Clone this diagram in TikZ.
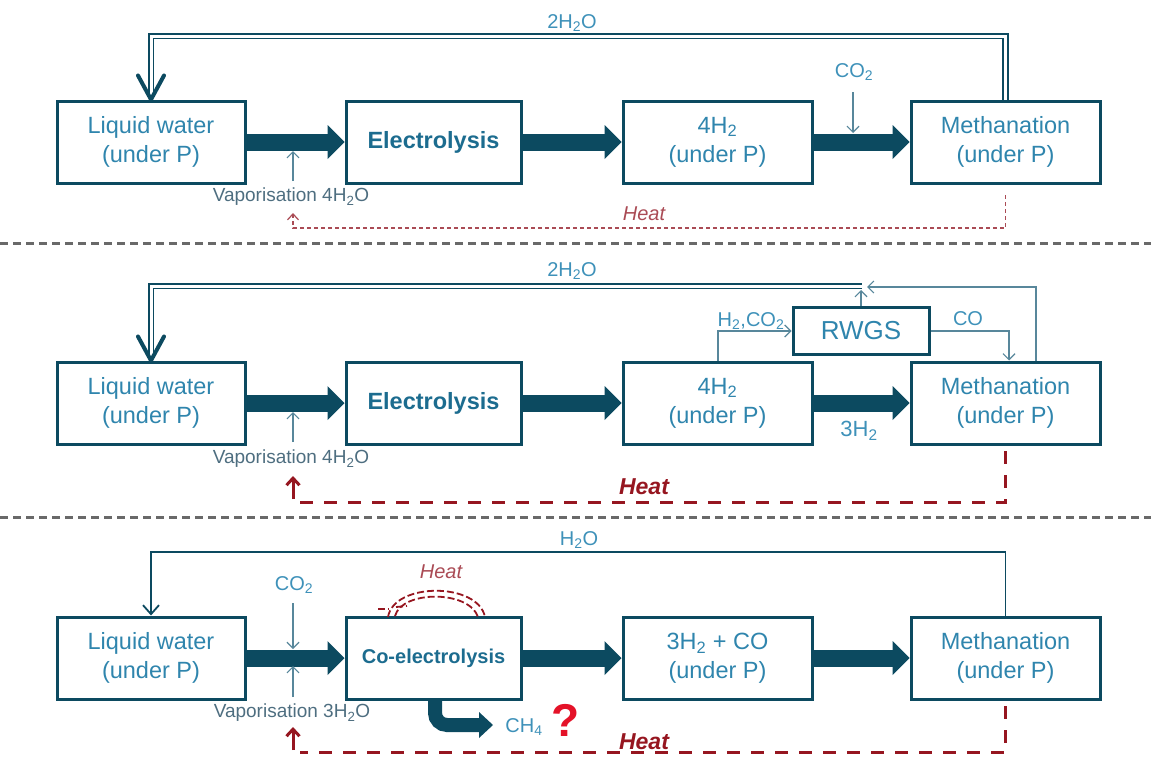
\documentclass[tikz,border=0pt]{standalone}
\usepackage{fontspec}
\setmainfont{Liberation Sans}
\usetikzlibrary{arrows.meta,calc}
\definecolor{boxdark}{RGB}{12,74,96}
\definecolor{boxtext}{RGB}{47,133,173}
\definecolor{boldtext}{RGB}{28,108,143}
\definecolor{lblcol}{RGB}{62,145,185}
\definecolor{vapcol}{RGB}{78,110,128}
\definecolor{thincol}{RGB}{88,135,155}
\definecolor{heatred}{RGB}{150,22,32}
\definecolor{heatlt}{RGB}{170,75,85}
\definecolor{sepgray}{RGB}{105,105,105}
\definecolor{qred}{RGB}{228,18,40}
\newcommand{\subs}[1]{\textsubscript{#1}}
\begin{document}
\begin{tikzpicture}[x=1pt,y=-1pt,
  box/.style={draw=boxdark, line width=3pt, minimum width=#1, minimum height=82pt,
    inner sep=0pt, align=center, text=boxtext, font=\fontsize{23.5}{29}\selectfont},
  bigarrow/.style={draw=boxdark, line width=17pt,
    -{Triangle[length=17pt 0 0, width=34pt 0 0, line width=0pt 0 0]}},
  bentarrow/.style={draw=boxdark, line width=14pt, rounded corners=12pt,
    -{Triangle[length=14pt 0 0, width=26pt 0 0, line width=0pt 0 0]}},
  dbl/.style={draw=boxdark, line width=1.6pt, double=white, double distance=3pt},
  vhead/.style={draw=boxdark, line width=4pt, line cap=round, line join=round},
  loopthin/.style={draw=boxdark, line width=1.8pt, -{Straight Barb[length=9pt 0 0, width=16pt 0 0]}},
  thinarr/.style={draw=thincol, line width=1.2pt, -{Straight Barb[length=6pt 0 0, width=12pt 0 0]}},
  lbl/.style={inner sep=0pt, text=lblcol, font=\fontsize{20}{24}\selectfont},
  vap/.style={inner sep=0pt, text=vapcol, font=\fontsize{19}{23}\selectfont},
  heatlight/.style={draw=heatlt, line width=1.2pt, dash pattern=on 4pt off 3pt,
    -{Straight Barb[length=6pt 0 0, width=11pt 0 0]}},
  heatbold/.style={draw=heatred, line width=3pt, dash pattern=on 13pt off 11pt},
  heattip/.style={draw=heatred, line width=3pt, -{Straight Barb[length=7pt 0 0, width=13pt 0 0]}},
  heatarc/.style={draw=heatred, line width=1.8pt, dash pattern=on 7pt off 3pt},
  heatlbl/.style={inner sep=0pt, text=heatlt, font=\fontsize{20}{24}\selectfont\itshape},
  heatlblb/.style={inner sep=0pt, text=heatred, font=\fontsize{23}{27}\selectfont\bfseries\itshape},
  sepline/.style={draw=sepgray, line width=3pt, dash pattern=on 8pt off 5pt}
]
\useasboundingbox (0,0) rectangle (1151,758);

% separators
\draw[sepline] (0,243) -- (1151,243);
\draw[sepline] (0,517) -- (1151,517);

% ================= Row 1 =================
\node[box=188pt] (A1) at (151,142) {Liquid water\\(under P)};
\node[box=175pt, text=boldtext, font=\fontsize{23.5}{29}\selectfont\bfseries] (B1) at (433.5,142) {Electrolysis};
\node[box=189pt] (C1) at (717.5,142) {4H\subs{2}\\(under P)};
\node[box=189pt] (D1) at (1005.5,142) {Methanation\\(under P)};
\draw[bigarrow] (A1.east) -- (B1.west);
\draw[bigarrow] (B1.east) -- (C1.west);
\draw[bigarrow] (C1.east) -- (D1.west);

\coordinate (t1) at (0,36);
\draw[dbl] (D1.north) |- (t1 -| A1.north) -- ($(A1.north)+(0,-4)$);
\draw[vhead] ($(A1.north)+(-13,-24)$) -- (A1.north) -- ($(A1.north)+(13,-24)$);
\node[lbl] (w1) at (572,23) {2H\subs{2}O};

\node[lbl] (co1) at (854,72) {CO\subs{2}};
\coordinate (co1s) at (853,92);
\draw[thinarr] (co1s) -- (co1s |- 0,133);

\node[vap] (v1) at (291,197) {Vaporisation 4H\subs{2}O};
\coordinate (v1s) at (293,181);
\draw[thinarr] (v1s) -- (v1s |- 0,151);

\coordinate (h1a) at (1005.5,195);
\coordinate (h1b) at (293,228);
\draw[heatlight] (h1a) |- (h1b) -- ($(h1b)+(0,-15)$);
\node[heatlbl] (hl1) at (644,214) {Heat};

% ================= Row 2 =================
\node[box=188pt] (A2) at (151,403) {Liquid water\\(under P)};
\node[box=175pt, text=boldtext, font=\fontsize{23.5}{29}\selectfont\bfseries] (B2) at (433.5,403) {Electrolysis};
\node[box=189pt] (C2) at (717.5,403) {4H\subs{2}\\(under P)};
\node[box=189pt] (D2) at (1005.5,403) {Methanation\\(under P)};
\node[draw=boxdark, line width=3pt, minimum width=136pt, minimum height=47pt, inner sep=0pt,
  text=boxtext, font=\fontsize{26}{30}\selectfont] (R) at (861,331) {RWGS};
\draw[bigarrow] (A2.east) -- (B2.west);
\draw[bigarrow] (B2.east) -- (C2.west);
\draw[bigarrow] (C2.east) -- (D2.west);
\node[lbl, font=\fontsize{22}{26}\selectfont] (h3) at (859,431) {3H\subs{2}};

\coordinate (j2) at (862,286);
\draw[dbl] (j2) -| ($(A2.north)+(0,-4)$);
\draw[vhead] ($(A2.north)+(-13,-24)$) -- (A2.north) -- ($(A2.north)+(13,-24)$);
\node[lbl] (w2) at (572,271) {2H\subs{2}O};
\draw[thinarr] (R.north) -- (R.north |- 0,290);
\draw[thinarr] (D2.north -| 1036,0) |- (867,287);
\draw[thinarr] (C2.north -| 718,0) |- (R.west);
\draw[thinarr] (R.east) -| (D2.north -| 1009,0);
\node[lbl] (hc) at (751,321) {H\subs{2},CO\subs{2}};
\node[lbl] (col) at (968,319) {CO};

\node[vap] (v2) at (291,459) {Vaporisation 4H\subs{2}O};
\coordinate (v2s) at (293,442);
\draw[thinarr] (v2s) -- (v2s |- 0,412);

\coordinate (h2a) at (1005.5,451);
\coordinate (h2b) at (300,502);
\draw[heatbold] (h2a) |- (h2b);
\coordinate (h2t) at (293,499);
\draw[heattip] (h2t) -- ($(h2t)+(0,-23)$);
\node[heatlblb] (hl2) at (644,487) {Heat};

% ================= Row 3 =================
\node[box=188pt] (A3) at (151,658) {Liquid water\\(under P)};
\node[box=175pt, text=boldtext, font=\fontsize{20}{24}\selectfont\bfseries] (B3) at (433.5,658) {Co-electrolysis};
\node[box=189pt] (C3) at (717.5,658) {3H\subs{2} + CO\\(under P)};
\node[box=189pt] (D3) at (1005.5,658) {Methanation\\(under P)};
\draw[bigarrow] (A3.east) -- (B3.west);
\draw[bigarrow] (B3.east) -- (C3.west);
\draw[bigarrow] (C3.east) -- (D3.west);

\coordinate (t3) at (0,552);
\draw[loopthin] (D3.north) |- (t3 -| A3.north) -- (A3.north);
\node[lbl] (w3) at (579,540) {H\subs{2}O};

\node[lbl] (co3) at (294,585) {CO\subs{2}};
\coordinate (co3s) at (293,603);
\draw[thinarr] (co3s) -- (co3s |- 0,649);

\node[vap] (v3) at (292,713) {Vaporisation 3H\subs{2}O};
\coordinate (v3s) at (293,697);
\draw[thinarr] (v3s) -- (v3s |- 0,666);

% CH4 side output
\coordinate (ch4t) at (493,725);
\draw[bentarrow] (B3.south -| 435,0) |- (ch4t);
\node[lbl] (ch4) at (524,727) {CH\subs{4}};
\node[inner sep=0pt, text=qred, font=\fontsize{46}{50}\selectfont\bfseries] (q) at (566,720) {?};

% heat arc on co-electrolysis
\draw[heatarc] (388,617) .. controls (394,582) and (478,582) .. (485,617);
\draw[heatarc] (395,616) .. controls (402,590) and (469,590) .. (478,617);
\draw[heatarc] (378,609) -- (389,609);
\draw[heatarc] (396,607) -- (407,606);
\node[heatlbl] (hl3a) at (441,572) {Heat};

\coordinate (h3a) at (1005.5,706);
\coordinate (h3b) at (300,752);
\draw[heatbold] (h3a) |- (h3b);
\coordinate (h3t) at (293,750);
\draw[heattip] (h3t) -- ($(h3t)+(0,-23)$);
\node[heatlblb] (hl3) at (644,742) {Heat};
\end{tikzpicture}
\end{document}
